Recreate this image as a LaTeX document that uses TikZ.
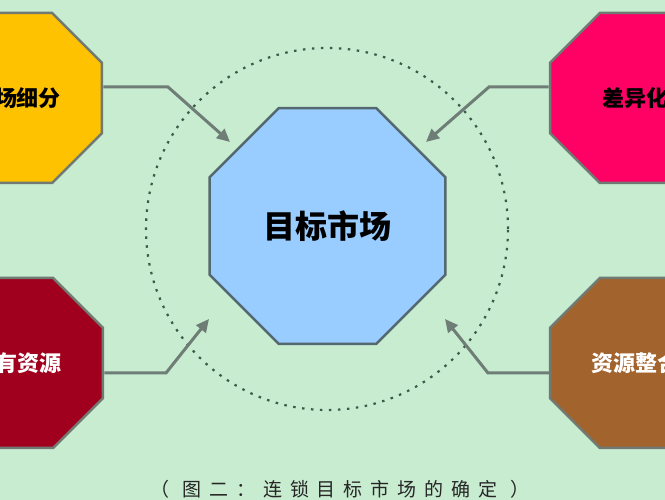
\documentclass[tikz,border=0pt]{standalone}
\usepackage{fontspec}
\usepackage{tikz}
\usetikzlibrary{shapes.geometric,arrows.meta}
\newfontfamily\cjk{Noto Sans CJK SC}
\newfontfamily\capfont[LetterSpace=42]{Noto Sans CJK SC}
\definecolor{bggreen}{RGB}{200,236,208}
\definecolor{octyellow}{RGB}{255,194,0}
\definecolor{octpink}{RGB}{255,0,100}
\definecolor{octdarkred}{RGB}{160,0,30}
\definecolor{octbrown}{RGB}{163,99,45}
\definecolor{octblue}{RGB}{153,204,255}
\definecolor{rimgray}{RGB}{112,122,114}
\definecolor{rimblue}{RGB}{84,104,112}
\definecolor{linkgray}{RGB}{110,125,118}
\definecolor{dotgreen}{RGB}{60,90,74}

\begin{document}
\begin{tikzpicture} [x=1pt, y=1pt,
        octagon/.style = {regular polygon, regular polygon sides=8,
            draw=rimgray, line width=2.5pt, minimum size=184pt, inner sep=0pt,
            font=\cjk\bfseries\fontsize{22}{24}\selectfont},
        link/.style = {draw=linkgray, line width=3pt, -{Triangle[length=13pt,width=12pt]}}]
        \useasboundingbox (0,0) rectangle (665,500);
        \fill[bggreen] (0,0) rectangle (665,500);
        \clip (0,0) rectangle (665,500);
        \draw[dotgreen, line width=2.2pt, dash pattern=on 2.5pt off 6.5pt] (327,271) circle (181);
        \node[octagon, fill=octblue, draw=rimblue, minimum size=255pt,
            font=\cjk\bfseries\fontsize{32}{34}\selectfont] (market) at (327.5,274) {目标市场};
        \node[octagon, fill=octyellow] (segment) at (17,402) {市场细分};
        \node[octagon, fill=octpink] (differ) at (635,402) {差异化};
        \node[octagon, fill=octdarkred, text=white] (ownres) at (18,137) {现有资源};
        \node[octagon, fill=octbrown, text=white] (integrate) at (635,137) {资源整合};
        \coordinate (tlbend) at (168,413);  \coordinate (tltip) at (230,358);
        \coordinate (trbend) at (489,413);  \coordinate (trtip) at (426,358);
        \coordinate (blbend) at (166,127);  \coordinate (bltip) at (209,181);
        \coordinate (brbend) at (488,127);  \coordinate (brtip) at (445,181);
        \draw[link] (segment.east |- tlbend) -- (tlbend) -- (tltip);
        \draw[link] (differ.west |- trbend) -- (trbend) -- (trtip);
        \draw[link] (ownres.east |- blbend) -- (blbend) -- (bltip);
        \draw[link] (integrate.west |- brbend) -- (brbend) -- (brtip);
        \node[font=\capfont\fontsize{19}{21}\selectfont, text=black!85] (caption) at (340,11) {（ 图二：连锁目标市场的确定 ）};
    \end{tikzpicture}
\end{document}
